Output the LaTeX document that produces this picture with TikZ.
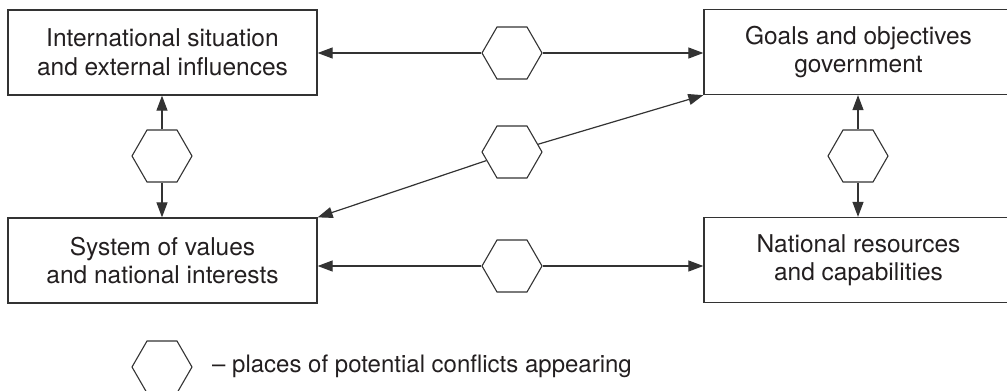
\documentclass[tikz,border=0pt]{standalone}
\usepackage{fontspec}
\setmainfont{TeX Gyre Heros}
\usetikzlibrary{shapes.geometric,arrows.meta}
\definecolor{linec}{HTML}{333333}
\definecolor{txt}{HTML}{231F20}
\begin{document}
\begin{tikzpicture}[x=1pt,y=-1pt,
  box/.style={draw=linec, line width=1.3pt, minimum width=309pt, minimum height=85pt,
    align=center, inner sep=0pt, font=\fontsize{24.5}{28.5}\selectfont, text=txt},
  hex/.style={draw=linec, line width=1.1pt, regular polygon, regular polygon sides=6,
    minimum size=60pt, inner sep=0pt},
  arr/.style={draw=linec, line width=1.2pt, -{Triangle[length=15pt,width=11pt]}}]
\useasboundingbox (0,0) rectangle (1007,391);
\node[box] (intl) at (162.5,52.5) {International situation\\and external influences};
\node[box] (goals) at (858.5,52) {Goals and objectives\\government};
\node[box] (sys) at (162.5,260.5) {System of values\\and national interests};
\node[box] (res) at (858.5,260) {National resources\\and capabilities};
\node[hex] (h1) at (512,53) {};
\node[hex] (h2) at (512,152) {};
\node[hex] (h3) at (162,156) {};
\node[hex] (h4) at (858,156) {};
\node[hex] (h5) at (512,266) {};
\node[hex] (hl) at (162,367) {};
\node[anchor=west, inner sep=0pt, font=\fontsize{24}{28}\selectfont, text=txt] (leg) at (212,366) {– places of potential conflicts appearing};
\draw[arr] (h1.west) -- (h1.west -| intl.east);
\draw[arr] (h1.east) -- (h1.east -| goals.west);
\draw[arr] (h5.west) -- (h5.west -| sys.east);
\draw[arr] (h5.east) -- (h5.east -| res.west);
\draw[arr] (h3.north) -- (h3.north |- intl.south);
\draw[arr] (h3.south) -- (h3.south |- sys.north);
\draw[arr] (h4.north) -- (h4.north |- goals.south);
\draw[arr] (h4.south) -- (h4.south |- res.north);
\draw[arr] (h2) -- (sys.north east);
\draw[arr] (h2) -- (goals.south west);
\end{tikzpicture}
\end{document}
